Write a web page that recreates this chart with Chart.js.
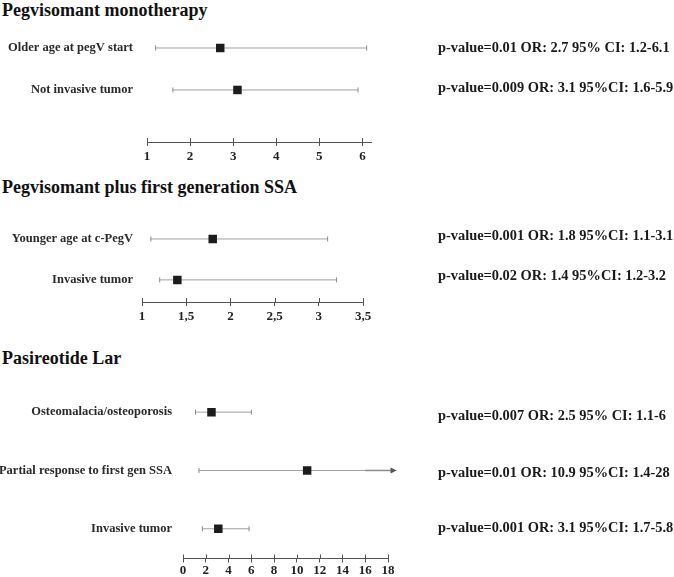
<!DOCTYPE html>
<html>
<head>
<meta charset="utf-8">
<script src="https://cdn.jsdelivr.net/npm/chart.js@4.4.0/dist/chart.umd.min.js"></script>
<style>
  body { margin: 0; background: #fff; }
  #wrap { position: relative; width: 674px; height: 577px; overflow: hidden; }
  canvas { position: absolute; left: 0; }
  .title { position: absolute; left: 2px; font: bold 18px "Liberation Serif", "Times New Roman", serif; line-height: 20px; color: #111; white-space: nowrap; }
  .stat { position: absolute; left: 438px; font: bold 14.4px "Liberation Serif", "Times New Roman", serif; line-height: 16px; color: #1a1a1a; white-space: nowrap; }
</style>
</head>
<body>
<div id="wrap">
  <div class="title" style="top:0px">Pegvisomant monotherapy</div>
  <div class="title" style="top:177px">Pegvisomant plus first generation SSA</div>
  <div class="title" style="top:348px">Pasireotide Lar</div>
  <canvas id="chart1" width="674" height="180" style="top:0px"></canvas>
  <canvas id="chart2" width="674" height="160" style="top:180px"></canvas>
  <canvas id="chart3" width="674" height="232" style="top:345px"></canvas>
</div>
<script>
// Pegvisomant monotherapy
var labels1 = ['Older age at pegV start', 'Not invasive tumor'];
var or1 = [2.7, 3.1];
var low1 = [1.2, 1.6];
var high1 = [6.1, 5.9];
var stats1 = ['p-value=0.01 OR: 2.7 95% CI: 1.2-6.1', 'p-value=0.009 OR: 3.1 95%CI: 1.6-5.9'];
var ticks1 = [1, 2, 3, 4, 5, 6];
var tickLabels1 = ['1', '2', '3', '4', '5', '6'];

// Pegvisomant plus first generation SSA
var labels2 = ['Younger age at c-PegV', 'Invasive tumor'];
var or2 = [1.8, 1.4];
var low2 = [1.1, 1.2];
var high2 = [3.1, 3.2];
var stats2 = ['p-value=0.001 OR: 1.8 95%CI: 1.1-3.1', 'p-value=0.02 OR: 1.4 95%CI: 1.2-3.2'];
var ticks2 = [1, 1.5, 2, 2.5, 3, 3.5];
var tickLabels2 = ['1', '1,5', '2', '2,5', '3', '3,5'];

// Pasireotide Lar
var labels3 = ['Osteomalacia/osteoporosis', 'Partial response to first gen SSA', 'Invasive tumor'];
var or3 = [2.5, 10.9, 3.1];
var low3 = [1.1, 1.4, 1.7];
var high3 = [6, 28, 5.8];
var stats3 = ['p-value=0.007 OR: 2.5 95% CI: 1.1-6', 'p-value=0.01 OR: 10.9 95%CI: 1.4-28', 'p-value=0.001 OR: 3.1 95%CI: 1.7-5.8'];
var ticks3 = [0, 2, 4, 6, 8, 10, 12, 14, 16, 18];
var tickLabels3 = ['0', '2', '4', '6', '8', '10', '12', '14', '16', '18'];

var serif = '"Liberation Serif", "Times New Roman", serif';

// tick marks cross the axis line, and intervals running off the axis get an arrow head
var forestExtras = {
  id: 'forestExtras',
  afterDatasetsDraw: function (chart) {
    var ctx = chart.ctx;
    var x = chart.scales.x;
    ctx.save();
    ctx.strokeStyle = '#555';
    ctx.lineWidth = 1;
    x.ticks.forEach(function (t) {
      var px = Math.round(x.getPixelForValue(t.value)) + 0.5;
      ctx.beginPath();
      ctx.moveTo(px, x.top - 4);
      ctx.lineTo(px, x.top);
      ctx.stroke();
    });
    chart.data.datasets.forEach(function (ds, i) {
      if (!ds.arrow) return;
      var pts = chart.getDatasetMeta(i).data;
      var tip = pts[pts.length - 1];
      var start = x.getPixelForValue(ds.arrowFrom);
      ctx.strokeStyle = '#8c8c8c';
      ctx.lineWidth = 1.5;
      ctx.beginPath();
      ctx.moveTo(start, tip.y);
      ctx.lineTo(tip.x - 4, tip.y);
      ctx.stroke();
      ctx.fillStyle = '#555';
      ctx.beginPath();
      ctx.moveTo(tip.x, tip.y);
      ctx.lineTo(tip.x - 6, tip.y - 3);
      ctx.lineTo(tip.x - 6, tip.y + 3);
      ctx.closePath();
      ctx.fill();
    });
    ctx.restore();
  }
};

function forestPlot(id, p) {
  var datasets = [];
  //confidence intervals, one line per row
  for (var i = 0; i < p.or.length; i++) {
    var clipped = p.high[i] > p.xmax;
    var end = clipped ? p.xmax + 0.75 : p.high[i];
    datasets.push({
      order: 1,
      showLine: true,
      clip: false,
      arrow: clipped,
      arrowFrom: p.ticks[p.ticks.length - 2],
      data: [{ x: p.low[i], y: i + 1 }, { x: end, y: i + 1 }],
      borderColor: '#a0a0a0',
      borderWidth: 1,
      pointStyle: 'line',
      pointRotation: 90,
      pointRadius: [2.5, clipped ? 0 : 2.5],
      pointBorderColor: '#8a8a8a',
      pointBorderWidth: 1
    });
  }
  //odds ratios, drawn on top of the interval lines
  datasets.push({
    order: 0,
    data: p.or.map(function (v, i) { return { x: v, y: i + 1 }; }),
    pointStyle: 'rect',
    pointRadius: 6,
    backgroundColor: '#1c1c1c',
    borderColor: '#1c1c1c',
    borderWidth: 0
  });

  new Chart(document.getElementById(id), {
    type: 'scatter',
    data: { datasets: datasets },
    plugins: [forestExtras],
    options: {
      responsive: false,
      animation: false,
      layout: { padding: { left: 0, right: 674 - p.right, top: p.top, bottom: p.bottom } },
      plugins: { legend: { display: false }, tooltip: { enabled: false } },
      scales: {
        x: {
          type: 'linear',
          position: 'bottom',
          min: p.xmin,
          max: p.axisMax,
          afterBuildTicks: function (s) { s.ticks = p.ticks.map(function (v) { return { value: v }; }); },
          afterFit: function (s) { s.height = p.xh; },
          grid: { drawOnChartArea: false, drawTicks: true, tickLength: 4, color: '#555', lineWidth: 1 },
          border: { display: true, color: '#555', width: 1 },
          ticks: {
            autoSkip: false,
            maxRotation: 0,
            padding: p.tickPad,
            color: '#222',
            font: { family: serif, size: 13, weight: 'bold' },
            callback: function (v) { return p.tickLabels[p.ticks.indexOf(v)]; }
          }
        },
        y: {
          type: 'linear',
          reverse: true,
          min: 0.5,
          max: p.ymax,
          afterBuildTicks: function (s) { s.ticks = p.labels.map(function (l, i) { return { value: i + 1 }; }); },
          afterFit: function (s) { s.width = p.left; },
          grid: { display: false, drawTicks: false },
          border: { display: false },
          ticks: {
            padding: p.labelPad,
            color: '#2a2a2a',
            font: { family: serif, size: 12.5, weight: 'bold' },
            callback: function (v) { return p.labels[v - 1]; }
          }
        }
      }
    }
  });
}

function addStats(stats, centers) {
  var wrap = document.getElementById('wrap');
  for (var i = 0; i < stats.length; i++) {
    var d = document.createElement('div');
    d.className = 'stat';
    d.style.top = (centers[i] - 8) + 'px';
    d.textContent = stats[i];
    wrap.appendChild(d);
  }
}

forestPlot('chart1', {
  labels: labels1, or: or1, low: low1, high: high1, ticks: ticks1, tickLabels: tickLabels1,
  xmin: 1, xmax: 6.2, axisMax: 6.2, ymax: 3.24,
  left: 147, right: 371, top: 27, bottom: 8, xh: 30, tickPad: 3, labelPad: 14
});
forestPlot('chart2', {
  labels: labels2, or: or2, low: low2, high: high2, ticks: ticks2, tickLabels: tickLabels2,
  xmin: 1, xmax: 3.5, axisMax: 3.5, ymax: 2.54,
  left: 142, right: 363, top: 38.5, bottom: 8, xh: 30, tickPad: 3, labelPad: 9
});
forestPlot('chart3', {
  labels: labels3, or: or3, low: low3, high: high3, ticks: ticks3, tickLabels: tickLabels3,
  xmin: 0, xmax: 18, axisMax: 18, ymax: 3.51,
  left: 183, right: 388, top: 38, bottom: 0, xh: 18, tickPad: 0, labelPad: 11
});

addStats(stats1, [47, 87]);
addStats(stats2, [235, 275]);
addStats(stats3, [415, 472, 527]);
</script>
</body>
</html>
